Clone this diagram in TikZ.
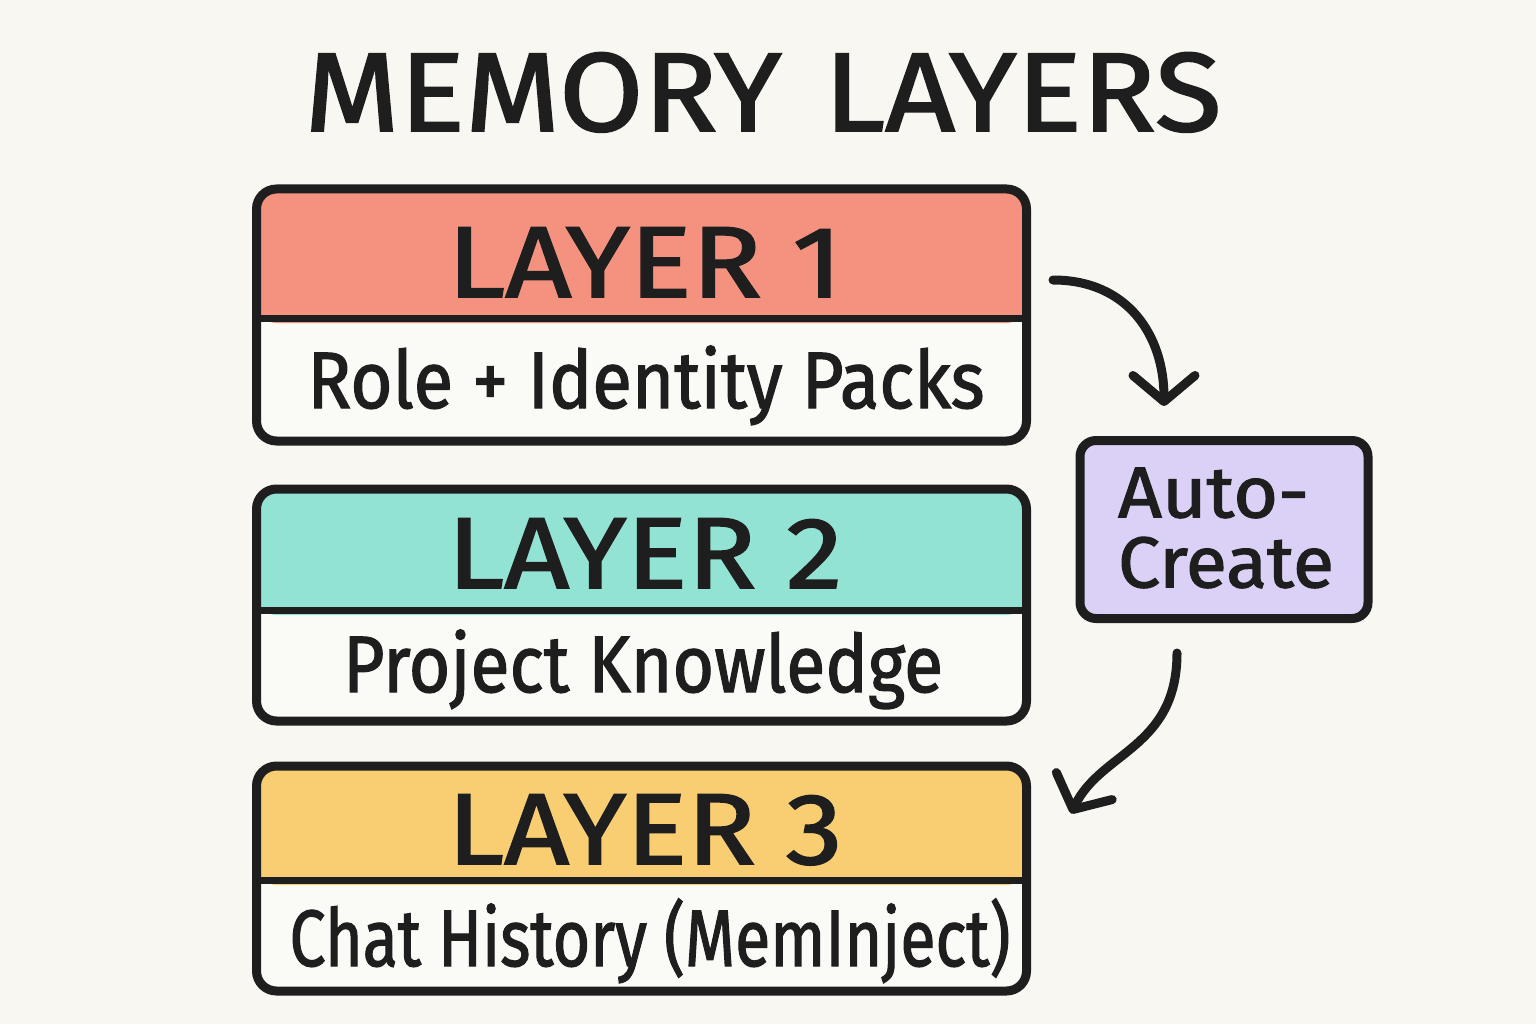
\documentclass[tikz,border=0pt]{standalone}
\usepackage{fontspec}
\usepackage{graphicx}
\setmainfont[FakeBold=1.6]{Fira Sans}
\usetikzlibrary{arrows.meta}
\definecolor{bg}{HTML}{F8F7F2}
\definecolor{ink}{HTML}{1E1E1E}
\definecolor{paper}{HTML}{FAFAF7}
\definecolor{salmon}{HTML}{F5927F}
\definecolor{teal}{HTML}{92E3D3}
\definecolor{amber}{HTML}{F9CE72}
\definecolor{lav}{HTML}{DBD0F6}
\newcommand\fitw[2]{\setbox0\hbox{#2}\scalebox{\fpeval{#1pt/(\the\wd0)}}[1]{\box0}}
\begin{document}
\begin{tikzpicture}[x=1pt,y=-1pt,
  layerbox/.style={draw=ink, line width=9pt, rounded corners=20pt, fill=paper, minimum width=770pt, inner sep=0pt},
  divider/.style={draw=ink, line width=7pt},
  autobox/.style={draw=ink, line width=9pt, rounded corners=16pt, fill=lav, minimum width=288pt, minimum height=178pt, inner sep=0pt},
  headtxt/.style={anchor=base, text=ink, inner sep=0pt, font=\fontsize{101}{110}\selectfont},
  subtxt/.style={anchor=base, text=ink, inner sep=0pt, font=\fontsize{80}{90}\selectfont},
  arr/.style={draw=ink, line width=9pt, line cap=round, -{Straight Barb[length=26pt, width=62pt, line width=9pt, round]}},
]
\useasboundingbox[fill=bg] (0,0) rectangle (1536,1024);

% title
\node[anchor=base, text=ink, inner sep=0pt, font=\fontsize{112}{120}\selectfont] (title) at (763,131) {\fitw{917}{MEMORY\hspace{0.35em}LAYERS}};

% layer 1
\node[layerbox, minimum height=252pt, path picture={\fill[salmon] (path picture bounding box.north west) rectangle ([yshift=-134pt]path picture bounding box.north east);}] (L1) at (641.5,315) {};
\draw[divider] ([yshift=-134pt]L1.north west) -- ([yshift=-134pt]L1.north east);
\node[headtxt] (L1h) at (645,297) {\fitw{395}{LAYER 1}};
\node[subtxt] (L1s) at (646,408) {\fitw{677}{Role + Identity Packs}};

% layer 2
\node[layerbox, minimum height=232pt, path picture={\fill[teal] (path picture bounding box.north west) rectangle ([yshift=-126pt]path picture bounding box.north east);}] (L2) at (641.5,605) {};
\draw[divider] ([yshift=-126pt]L2.north west) -- ([yshift=-126pt]L2.north east);
\node[headtxt] (L2h) at (645,588) {\fitw{395}{LAYER 2}};
\node[subtxt] (L2s) at (643,692) {\fitw{600}{Project Knowledge}};

% layer 3
\node[layerbox, minimum height=225pt, path picture={\fill[amber] (path picture bounding box.north west) rectangle ([yshift=-119pt]path picture bounding box.north east);}] (L3) at (641.5,878.5) {};
\draw[divider] ([yshift=-119pt]L3.north west) -- ([yshift=-119pt]L3.north east);
\node[headtxt] (L3h) at (645,864) {\fitw{395}{LAYER 3}};
\node[subtxt] (L3s) at (650,966) {\fitw{721}{Chat History (MemInject)}};

% auto-create
\node[autobox] (AC) at (1224,529.5) {};
\node[text=ink, inner sep=0pt, align=left, font=\fontsize{72}{70}\selectfont] (ACt) at (1226,528) {\fitw{191}{Auto-}\\\fitw{216}{Create}};

% arrows
\coordinate (a1) at ([xshift=22pt,yshift=35pt]L1.east);
\coordinate (a2) at ([xshift=-47pt,yshift=-30pt]AC.south);
\draw[arr] (a1) .. controls ([xshift=75pt]a1) and ([xshift=-60pt,yshift=100pt]AC.north) .. ([xshift=-60pt,yshift=30pt]AC.north);
\draw[arr] (a2) .. controls ([yshift=-95pt]a2) and ([xshift=70pt,yshift=10pt]L3.north east) .. ([xshift=40pt,yshift=-52pt]L3.north east);
\end{tikzpicture}
\end{document}
